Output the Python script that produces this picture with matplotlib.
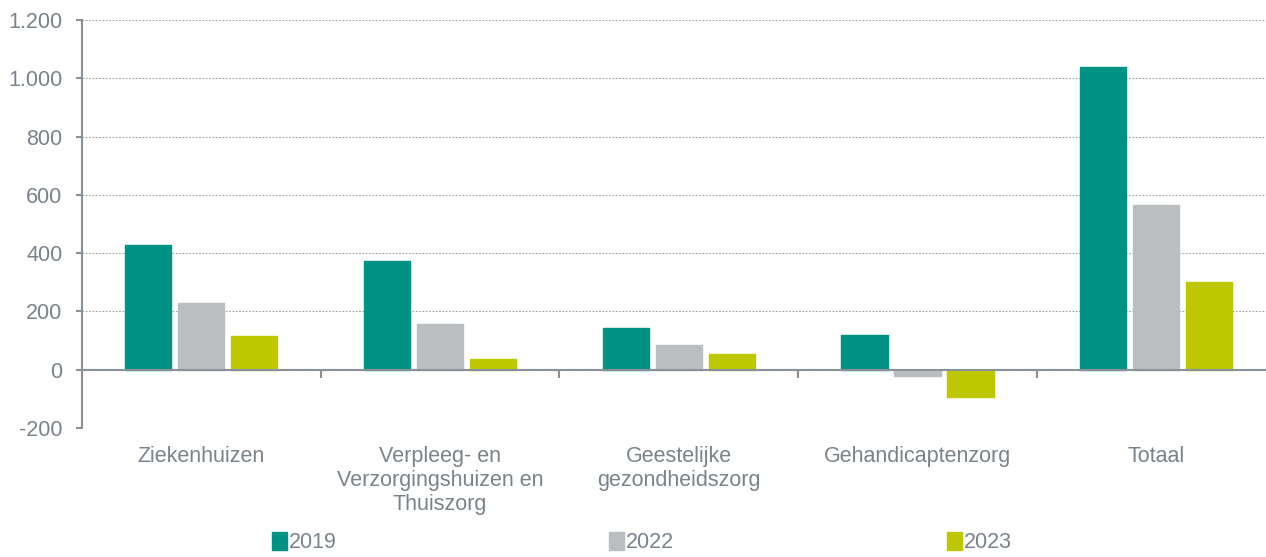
import numpy as np
import matplotlib
matplotlib.use("Agg")
import matplotlib.pyplot as plt
from matplotlib.patches import Patch

plt.rcParams['font.family'] = ['Liberation Sans', 'DejaVu Sans']

# categorieën en waarden per jaar
categories = ["Ziekenhuizen", "Verpleeg- en\nVerzorgingshuizen en\nThuiszorg",
              "Geestelijke\ngezondheidszorg", "Gehandicaptenzorg", "Totaal"]
years = ["2019", "2022", "2023"]
v2019 = [428, 374, 144, 120, 1039]
v2022 = [230, 158, 86, -20, 566]
v2023 = [117, 38, 55, -92, 302]
yticks = [-200, 0, 200, 400, 600, 800, 1000, 1200]
ytick_labels = ["-200", "0", "200", "400", "600", "800", "1.000", "1.200"]

colors = ["#009384", "#BBBEC1", "#BDC800"]
txt = "#7A838C"
axc = "#8A9299"
fs = 15.5

fig = plt.figure(figsize=(12.66, 5.57), dpi=100)
ax = fig.add_axes([0.0648, 0.2316, 0.9352, 0.7325])

x = np.arange(len(categories))
w = 0.193
step = 0.222
for i, vals in enumerate([v2019, v2022, v2023]):
    ax.bar(x + (i - 1) * step, vals, width=w, color=colors[i],
           edgecolor=colors[i], linewidth=1, joinstyle='round', zorder=3)

ax.set_xlim(-0.5, 4.46)
ax.set_ylim(-200, 1200)
ax.set_yticks(yticks)
ax.set_yticklabels(ytick_labels)
ax.yaxis.grid(True, linestyle=(0, (1.5, 1.5)), color="#A0A0A0", linewidth=0.8, zorder=0)
ax.set_axisbelow(True)

ax.axhline(0, color=axc, linewidth=1.5, zorder=4)
seps = x[:-1] + 0.5
ax.vlines(seps, -28, 0, color=axc, linewidth=1.5, zorder=4)

for s in ["top", "right", "bottom"]:
    ax.spines[s].set_visible(False)
ax.spines["left"].set_color(axc)
ax.spines["left"].set_linewidth(1.5)

ax.set_xticks(x)
ax.set_xticklabels(categories)
ax.tick_params(axis='x', length=0, pad=13, labelsize=fs, labelcolor=txt)
ax.tick_params(axis='y', length=4, width=1.5, color=axc, pad=10, labelsize=fs, labelcolor=txt)

handles = [Patch(facecolor=c, edgecolor=c) for c in colors]
fig.legend(handles, years, loc='lower center', bbox_to_anchor=(0.507, -0.028), ncol=3,
           frameon=False, fontsize=fs, labelcolor=txt, handlelength=0.7, handleheight=0.9,
           handletextpad=0.1, columnspacing=12.65)

fig.savefig("out.png", dpi=100)
